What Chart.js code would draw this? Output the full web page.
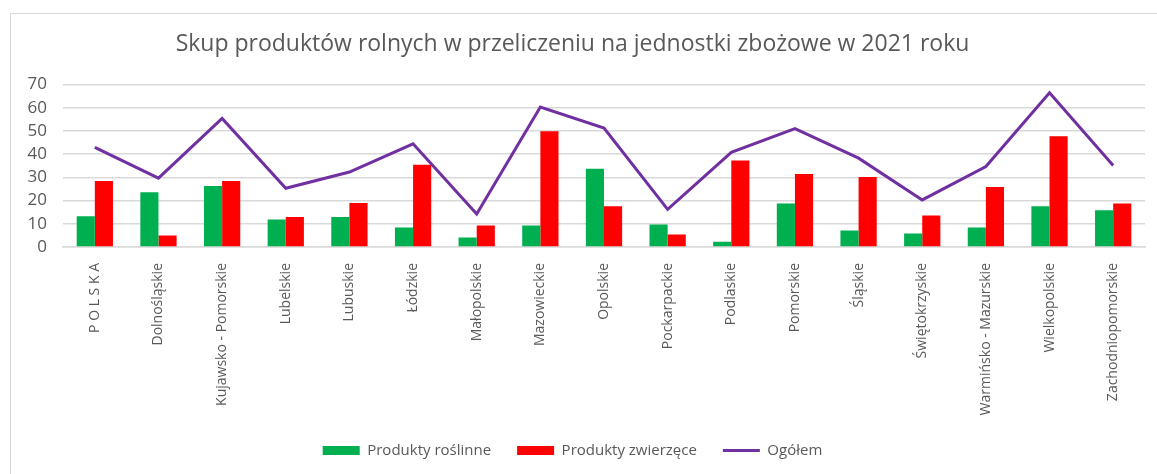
<!DOCTYPE html>
<html lang="pl">
<head>
<meta charset="utf-8">
<title>Skup produktów rolnych</title>
<script src="https://cdn.jsdelivr.net/npm/chart.js@4/dist/chart.umd.min.js"></script>
<style>
  html,body{margin:0;padding:0;background:#fff;}
  .wrap{position:relative;width:1157px;height:474px;overflow:hidden;}
  .frame{position:absolute;left:10px;top:13px;width:1200px;height:500px;border-top:1.5px solid #d9d9d9;border-left:1.5px solid #d9d9d9;}
  canvas{position:absolute;left:0;top:0;}
</style>
</head>
<body>
<div class="wrap">
  <div class="frame"></div>
  <canvas id="ch" width="1157" height="474"></canvas>
</div>
<script>
/* data */
const regiony=['P O L S K A','Dolnośląskie','Kujawsko - Pomorskie','Lubelskie','Lubuskie','Łódzkie','Małopolskie','Mazowieckie','Opolskie','Pockarpackie','Podlaskie','Pomorskie','Śląskie','Świętokrzyskie','Warmińsko - Mazurskie','Wielkopolskie','Zachodniopomorskie'];
const roslinne=[13.3,23.6,26.3,11.8,12.9,8.4,4.1,9.3,33.7,9.7,2.3,18.8,7.1,5.8,8.4,17.6,15.8];
const zwierzece=[28.5,5.0,28.5,12.9,19.0,35.4,9.3,49.9,17.6,5.4,37.3,31.5,30.2,13.6,25.9,47.7,18.8];
const ogolem=[42.9,29.7,55.4,25.3,32.3,44.5,14.2,60.3,51.3,16.2,40.8,51.0,38.3,20.3,34.7,66.5,35.1];
const yTicks=[0,10,20,30,40,50,60,70];

const FONT='"Open Sans", "Noto Sans", sans-serif';
const GRAY='#595959';

new Chart(document.getElementById('ch'),{
  data:{labels:regiony,datasets:[
    {type:'bar',label:'Produkty roślinne',data:roslinne,backgroundColor:'#00b050',order:1,categoryPercentage:0.57,barPercentage:1},
    {type:'bar',label:'Produkty zwierzęce',data:zwierzece,backgroundColor:'#ff0000',order:1,categoryPercentage:0.57,barPercentage:1},
    {type:'line',label:'Ogółem',data:ogolem,borderColor:'#7030a0',backgroundColor:'#7030a0',borderWidth:3,pointRadius:0,tension:0,order:0}
  ]},
  options:{
    responsive:false,animation:false,
    layout:{padding:{left:0,right:12,top:0,bottom:6}},
    plugins:{
      title:{display:true,text:'Skup produktów rolnych w przeliczeniu na jednostki zbożowe w 2021 roku',
        color:GRAY,font:{family:FONT,size:23,weight:'normal'},padding:{top:31,bottom:26}},
      legend:{position:'bottom',
        labels:{color:GRAY,font:{family:FONT,size:15},usePointStyle:true,pointStyleWidth:37,boxHeight:9,padding:26,
          sort:(a,b)=>a.datasetIndex-b.datasetIndex,
          generateLabels:ch=>Chart.defaults.plugins.legend.labels.generateLabels(ch).map(it=>{
            const ds=ch.data.datasets[it.datasetIndex];
            if(ds.type==='line'){it.pointStyle='line';it.lineWidth=3;it.strokeStyle=ds.borderColor;}
            else{it.pointStyle='rect';it.lineWidth=0;}
            return it;})}},
      tooltip:{enabled:false}
    },
    scales:{
      x:{grid:{display:false},border:{color:'#d9d9d9',width:1.5},afterFit:s=>{s.height=170;},
        ticks:{color:GRAY,font:{family:FONT,size:14},minRotation:90,maxRotation:90,autoSkip:false,padding:8}},
      y:{min:0,max:70,afterBuildTicks:s=>{s.ticks=yTicks.map(v=>({value:v}));},
        afterFit:s=>{s.width=63;},
        grid:{color:'#d9d9d9',lineWidth:1.5,drawTicks:false},border:{display:false},
        ticks:{color:GRAY,font:{family:FONT,size:17},padding:16,autoSkip:false}}
    }
  }
});
</script>
</body>
</html>
